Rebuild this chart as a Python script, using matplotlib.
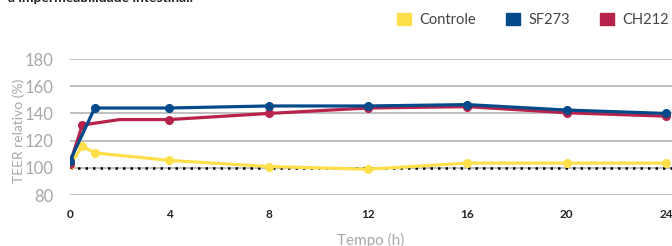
import matplotlib.pyplot as plt
from matplotlib.patches import Patch

# Datos
horas_controle = [0, 0.5, 1, 4, 8, 12, 16, 20, 24]
teer_controle = [102, 116, 111, 105.5, 101, 99, 103.5, 103.5, 103.5]

horas_sf = [0, 1, 4, 8, 12, 16, 20, 24]
teer_sf = [105, 144, 144, 145.5, 145.5, 146.5, 142.5, 140]

horas_ch = [0, 0.5, 2, 4, 8, 12, 16, 20, 24]
teer_ch = [103, 131.5, 135.5, 135.5, 140, 144, 145, 140.5, 138]

xticks = [0, 4, 8, 12, 16, 20, 24]
yticks = [80, 100, 120, 140, 160, 180]

amarelo = '#FFE04B'
azul = '#024A8A'
vermelho = '#B8234B'
cinza = '#A8A8A8'

plt.rcParams['font.family'] = ['Lato', 'DejaVu Sans']

fig = plt.figure(figsize=(6.72, 2.46), dpi=100)
ax = fig.add_axes([0.104, 0.207, 0.896, 0.553])

ax.plot(horas_controle, teer_controle, color=amarelo, lw=2.3, marker='o', ms=5.5, zorder=3)
ax.plot(horas_ch, teer_ch, color=vermelho, lw=2.3, marker='o', ms=5.5,
        markevery=[0, 1, 3, 4, 5, 6, 7, 8], zorder=4)
ax.plot(horas_sf, teer_sf, color=azul, lw=2.3, marker='o', ms=5.5, zorder=5)

# Linea de referencia al 100 %
ax.axhline(100, color='black', ls=(0, (1, 2)), lw=1.8, zorder=2)

ax.set_xlim(0, 24.24)
ax.set_ylim(80, 180)
ax.set_xticks(xticks)
ax.set_yticks(yticks)
ax.grid(axis='y', color='#B5B5B5', lw=1.2)
ax.set_axisbelow(True)
for s in ax.spines.values():
    s.set_visible(False)
ax.tick_params(axis='both', length=0)
ax.tick_params(axis='y', labelsize=12, labelcolor=cinza, pad=12)
ax.tick_params(axis='x', labelsize=8.5, pad=10)
for t in ax.get_xticklabels():
    t.set_fontweight('bold')
    t.set_color('#222222')

ax.set_ylabel('TEER relativo (%)', color=cinza, fontsize=10, labelpad=0)
ax.yaxis.set_label_coords(-0.074, 0.47)
ax.set_xlabel('Tempo (h)', color=cinza, fontsize=11, labelpad=9)

# Leyenda arriba a la derecha
handles = [Patch(color=amarelo, label='Controle'),
           Patch(color=azul, label='SF273'),
           Patch(color=vermelho, label='CH212')]
fig.legend(handles=handles, loc='center right', bbox_to_anchor=(1.015, 0.92),
           ncol=3, frameon=False, fontsize=10.5, handlelength=0.95, handleheight=0.95,
           columnspacing=2.1, handletextpad=0.55, labelcolor='#444444')

# Título recortado en el borde superior
fig.text(0.012, 1.008, 'a impermeabilidade intestinal.', fontsize=10, fontweight='bold',
         color='#222222', va='center', ha='left')

fig.savefig('out.png', dpi=100)
